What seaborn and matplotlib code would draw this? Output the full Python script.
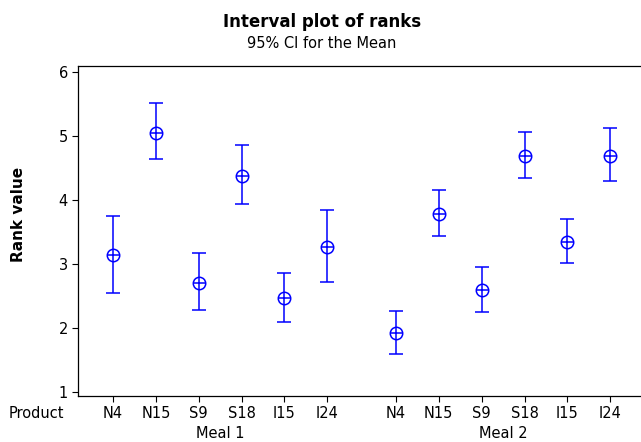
import matplotlib
matplotlib.use("Agg")
import matplotlib.pyplot as plt
import numpy as np
import pandas as pd
import seaborn as sns

# Rank means and 95% confidence limits per product, for each meal
products = ["N4", "N15", "S9", "S18", "I15", "I24"]
meals = ["Meal 1", "Meal 2"]

meal1_mean = [3.14, 5.05, 2.71, 4.37, 2.47, 3.27]
meal1_lower = [2.55, 4.64, 2.28, 3.94, 2.10, 2.72]
meal1_upper = [3.75, 5.51, 3.17, 4.85, 2.86, 3.84]

meal2_mean = [1.92, 3.78, 2.59, 4.69, 3.35, 4.69]
meal2_lower = [1.60, 3.44, 2.26, 4.35, 3.01, 4.29]
meal2_upper = [2.27, 4.16, 2.95, 5.06, 3.71, 5.12]

y_ticks = [1, 2, 3, 4, 5, 6]

# Long-format table; each meal is a block of product slots on the x axis
group_gap = 6.6
rows = []
for g, (meal, mean, lo, hi) in enumerate(
    [("Meal 1", meal1_mean, meal1_lower, meal1_upper),
     ("Meal 2", meal2_mean, meal2_lower, meal2_upper)]):
    for i, p in enumerate(products):
        rows.append({"meal": meal, "product": p, "pos": g * group_gap + i,
                     "mean": mean[i], "lower": lo[i], "upper": hi[i]})
df = pd.DataFrame(rows)

sns.set_style("ticks")
plt.rcParams["font.family"] = ["DejaVu Sans"]
plt.rcParams.update({"text.color": "black", "axes.labelcolor": "black",
                     "xtick.color": "black", "ytick.color": "black"})

W, H = 641, 442
fig = plt.figure(figsize=(W / 100, H / 100), dpi=100)
ax = fig.add_axes([78.3 / W, 1 - 395.7 / H, (645 - 78.3) / W, (395.7 - 65.7) / H])

blue = "#0000FF"

# Confidence intervals
ax.errorbar(df["pos"], df["mean"],
            yerr=[df["mean"] - df["lower"], df["upper"] - df["mean"]],
            fmt="none", ecolor=blue, elinewidth=1.1, capsize=5.2,
            capthick=1.1, zorder=2)

# Mean markers: open circle with a cross inside
sns.scatterplot(data=df, x="pos", y="mean", ax=ax, marker="o", s=80,
                facecolor="white", edgecolor=blue, linewidth=1.1,
                zorder=3, legend=False)
sns.scatterplot(data=df, x="pos", y="mean", ax=ax, marker="+", s=80,
                color=blue, linewidth=1.1, zorder=4, legend=False)

ax.set_xlim(-0.81, 5 + group_gap + 0.81)
ax.set_ylim(0.947, 6.094)
ax.set_yticks(y_ticks)
ax.set_yticklabels([str(t) for t in y_ticks])
ax.set_xticks(df["pos"])
ax.set_xticklabels(df["product"])
ax.tick_params(axis="both", direction="out", length=4.5, width=0.8,
               color="black", labelcolor="black", labelsize=10.5, pad=3)
for s in ax.spines.values():
    s.set_color("black")
    s.set_linewidth(0.9)

ax.set_xlabel("")
ax.set_ylabel("Rank value", fontsize=11, fontweight="bold", color="black")
ax.yaxis.set_label_coords(-0.093, 0.548)

# Meal group labels below the product labels
for g, meal in enumerate(meals):
    center = g * group_gap + (len(products) - 1) / 2
    ax.text(center, -0.116, meal, transform=ax.get_xaxis_transform(),
            ha="center", va="center", fontsize=10.5, color="black")

fig.text(9 / W, 1 - 413.5 / H, "Product", ha="left", va="center",
         fontsize=10.5, color="black")

fig.text(322 / W, 1 - 22 / H, "Interval plot of ranks", ha="center",
         va="center", fontsize=12, fontweight="bold", color="black")
fig.text(322 / W, 1 - 43 / H, "95% CI for the Mean", ha="center",
         va="center", fontsize=10.5, color="black")

fig.savefig("out.png", dpi=100)
